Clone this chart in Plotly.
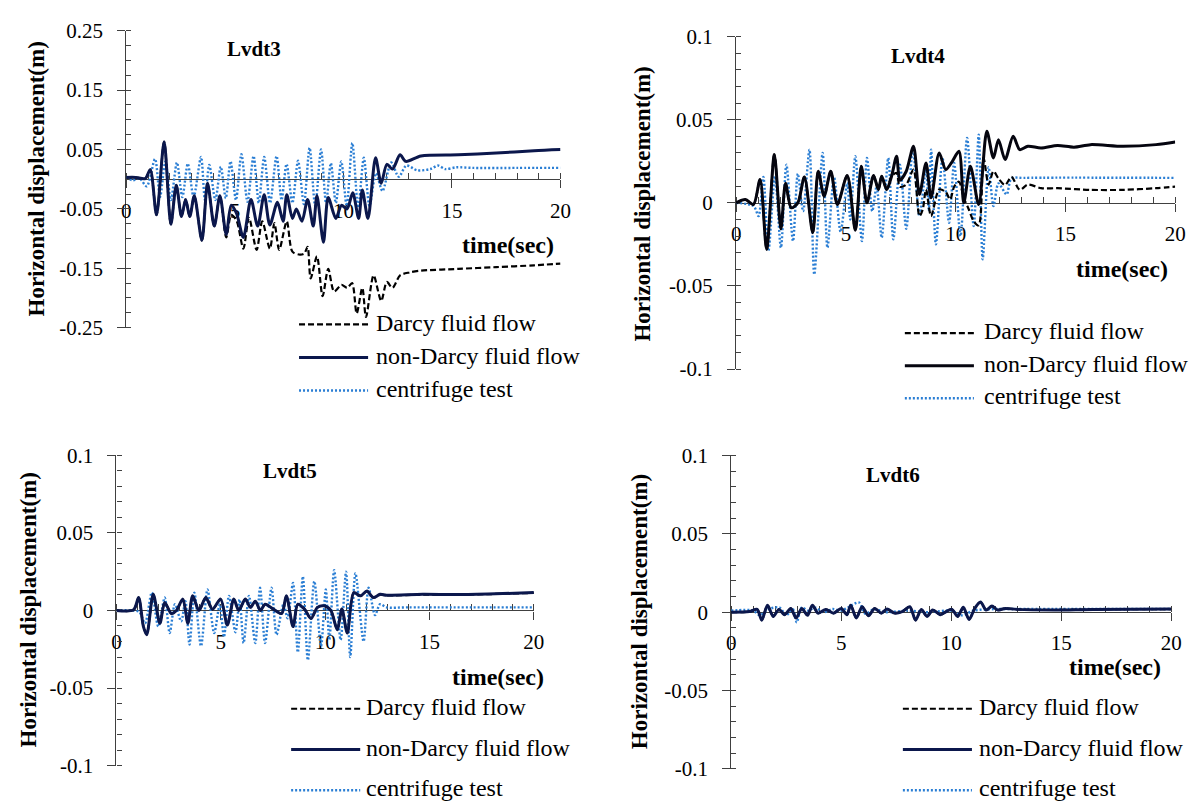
import plotly.graph_objects as go

FONT = "Liberation Serif"
W, H = 1201, 811

# ---------------- data: time (s) and horizontal displacement (m) ----------------
# Lvdt3
lvdt3_nd_t = [0, 0.43, 0.87, 1.1, 1.39, 1.74, 2.05, 2.3, 2.54, 2.73, 2.92, 3.13, 3.48, 3.74, 4.05, 4.31,
              4.6, 4.83, 5.08, 5.39, 5.74, 6.05, 6.35, 6.61, 6.96, 7.22, 7.39, 7.65, 7.83, 8.09, 8.35,
              8.61, 8.78, 9.08, 9.3, 9.65, 9.91, 10.17, 10.43, 10.7, 10.87, 11.13, 11.48, 11.74, 12.0,
              12.26, 12.61, 12.87, 13.57, 15.3, 17.04, 18.78, 20]
lvdt3_nd_v = [0.003, 0.003, 0.001, 0.016, -0.060, 0.063, -0.076, -0.010, -0.063, -0.034, -0.063, -0.028,
              -0.103, -0.007, -0.079, -0.028, -0.093, -0.044, -0.058, -0.098, -0.034, -0.079, -0.026,
              -0.077, -0.039, -0.071, -0.026, -0.066, -0.050, -0.071, -0.034, -0.079, -0.028, -0.106,
              -0.031, -0.066, -0.044, -0.050, -0.023, -0.066, -0.018, -0.066, 0.036, -0.007, 0.025,
              0.017, 0.041, 0.030, 0.039, 0.041, 0.044, 0.048, 0.050]
lvdt3_d_t = [0, 0.43, 0.87, 1.1, 1.39, 1.74, 2.05, 2.3, 2.54, 2.73, 2.92, 3.13, 3.48, 3.74, 4.05, 4.31,
             4.6, 4.83, 5.08, 5.39, 5.65, 6.0, 6.26, 6.61, 6.82, 7.04, 7.39, 7.65, 8.0, 8.2, 8.35, 8.49,
             8.78, 9.04, 9.3, 9.57, 9.91, 10.17, 10.4, 10.61, 10.87, 11.04, 11.39, 11.74, 12.0, 12.26,
             12.61, 13.04, 13.57, 15.3, 17.04, 18.78, 20]
lvdt3_d_v = [0.003, 0.003, 0.001, 0.016, -0.060, 0.063, -0.076, -0.010, -0.063, -0.034, -0.063, -0.028,
             -0.103, -0.007, -0.079, -0.028, -0.098, -0.060, -0.070, -0.117, -0.065, -0.119, -0.071,
             -0.117, -0.074, -0.119, -0.071, -0.122, -0.127, -0.125, -0.114, -0.167, -0.130, -0.197,
             -0.151, -0.189, -0.178, -0.183, -0.175, -0.226, -0.183, -0.232, -0.162, -0.205, -0.173,
             -0.183, -0.162, -0.157, -0.154, -0.151, -0.148, -0.145, -0.142]
lvdt3_c_t = [0, 0.3, 0.6, 0.94, 1.32, 1.55, 1.8, 2.05, 2.33, 2.58, 2.83, 3.1, 3.44, 3.62, 3.82, 4.1,
             4.35, 4.58, 4.8, 5.05, 5.3, 5.58, 5.86, 6.1, 6.35, 6.62, 6.92, 7.15, 7.38, 7.65, 7.91, 8.18,
             8.44, 8.7, 8.97, 9.2, 9.42, 9.65, 9.9, 10.15, 10.41, 10.68, 10.94, 11.2, 11.5, 11.8, 12.2,
             12.55, 12.9, 13.4, 14.0, 14.35, 14.7, 15.2, 16.0, 18.0, 20]
lvdt3_c_v = [0.004, -0.002, 0.002, -0.012, 0.034, -0.030, 0.030, -0.035, 0.028, -0.030, 0.026, -0.030,
             0.0375, -0.035, 0.024, -0.035, 0.021, -0.032, 0.030, -0.035, 0.042, -0.038, 0.039, -0.040,
             0.0375, -0.040, 0.039, -0.035, 0.0255, -0.040, 0.031, -0.042, 0.053, -0.045, 0.050, -0.040,
             0.027, -0.040, 0.030, -0.045, 0.061, -0.048, 0.036, -0.045, 0.010, -0.020, 0.028, 0.004,
             0.023, 0.015, 0.017, 0.023, 0.017, 0.020, 0.019, 0.019, 0.019]

# Lvdt4
lvdt4_nd_t = [0, 0.42, 0.79, 1.09, 1.39, 1.74, 2.04, 2.25, 2.51, 2.81, 3.11, 3.49, 3.74, 4.01, 4.31, 4.61,
              5.06, 5.43, 5.70, 5.96, 6.26, 6.48, 6.63, 6.86, 7.08, 7.31, 7.46, 7.75, 8.08, 8.35, 8.65,
              8.88, 9.25, 9.55, 9.85, 10.15, 10.37, 10.67, 11.05, 11.42, 11.72, 11.95, 12.25, 12.62,
              12.92, 13.29, 13.89, 14.64, 15.39, 16.14, 17.63, 19.13, 20]
lvdt4_nd_v = [0, 0.002, -0.001, 0.014, -0.028, 0.029, -0.0156, 0.0117, -0.003, 0.0, 0.0156, -0.018,
              0.019, 0.004, 0.019, -0.001, 0.0165, -0.0165, 0.022, 0.0, 0.0165, 0.008, 0.016, 0.008,
              0.016, 0.028, 0.0136, 0.019, 0.034, 0.005, 0.024, 0.003, 0.030, 0.020, 0.025, 0.031, 0.0,
              0.022, -0.001, 0.043, 0.027, 0.038, 0.026, 0.040, 0.032, 0.034, 0.033, 0.0345, 0.0335,
              0.035, 0.034, 0.035, 0.0366]
lvdt4_d_t = [0, 0.42, 0.79, 1.09, 1.39, 1.74, 2.04, 2.25, 2.51, 2.81, 3.11, 3.49, 3.74, 4.01, 4.31, 4.61,
             5.06, 5.43, 5.70, 5.96, 6.26, 6.48, 6.63, 6.86, 7.08, 7.31, 7.46, 7.75, 8.08, 8.35, 8.5,
             8.65, 8.88, 9.25, 9.55, 9.75, 9.93, 10.15, 10.37, 10.6, 10.82, 11.05, 11.27, 11.5, 11.72,
             11.95, 12.25, 12.54, 12.92, 13.29, 13.89, 14.64, 16.14, 17.63, 19.13, 20]
lvdt4_d_v = [0, 0.002, -0.001, 0.014, -0.028, 0.029, -0.0156, 0.0117, -0.003, 0.0, 0.0156, -0.018,
             0.019, 0.004, 0.019, -0.001, 0.0165, -0.0165, 0.022, 0.0, 0.0165, 0.008, 0.016, 0.008,
             0.016, 0.018, 0.0097, 0.011, 0.020, -0.008, -0.004, 0.008, -0.008, 0.008, 0.0065, 0.002,
             0.0097, 0.0127, 0.003, -0.004, -0.011, -0.0136, 0.027, 0.011, 0.019, 0.0146, 0.0107,
             0.0156, 0.0078, 0.011, 0.0088, 0.0088, 0.0078, 0.0078, 0.0088, 0.0097]
lvdt4_c_t = [0, 0.8, 1.02, 1.24, 1.47, 1.77, 2.04, 2.29, 2.59, 2.81, 3.05, 3.34, 3.56, 3.94, 4.16, 4.46,
             4.76, 5.06, 5.2, 5.43, 5.73, 5.96, 6.2, 6.4, 6.63, 6.93, 7.16, 7.46, 7.75, 8.05, 8.35, 8.65,
             8.78, 8.88, 9.10, 9.40, 9.70, 9.93, 10.22, 10.52, 10.82, 11.05, 11.23, 11.50, 11.72, 11.95,
             12.32, 12.54, 13.14, 20]
lvdt4_c_v = [0, -0.002, -0.008, 0.0156, -0.029, 0.016, -0.027, 0.023, -0.023, 0.0175, -0.005, 0.032,
             -0.043, 0.030, -0.027, 0.0156, -0.0175, 0.012, -0.010, 0.028, -0.023, 0.027, -0.005, 0.010,
             -0.021, 0.027, -0.022, 0.023, -0.0156, 0.033, -0.008, 0.020, -0.005, 0.032, -0.025, 0.027,
             -0.012, 0.024, -0.020, 0.039, -0.014, 0.041, -0.034, 0.0214, -0.002, 0.0117, 0.005, 0.0146,
             0.015, 0.015]

# Lvdt5
lvdt5_nd_t = [0, 0.82, 1.06, 1.29, 1.45, 1.76, 2.08, 2.31, 2.63, 2.87, 3.18, 3.42, 3.65, 3.95, 4.28, 4.6,
              4.99, 5.31, 5.62, 5.86, 6.17, 6.42, 6.65, 6.9, 7.12, 7.5, 7.91, 8.14, 8.46, 8.69, 9.0, 9.32,
              9.63, 9.95, 10.27, 10.58, 10.8, 11.06, 11.37, 11.69, 12.0, 12.31, 12.63, 12.94, 14.68,
              16.25, 17.8, 20]
lvdt5_nd_v = [0, 0.0004, 0.0083, -0.0104, -0.0156, 0.0104, -0.0083, 0.0052, -0.002, 0.0, 0.0073, -0.0083,
              0.0094, 0.0, 0.0083, 0.0008, 0.0073, -0.0094, 0.0073, 0.0, 0.0073, 0.002, 0.006, 0.0, 0.004,
              0.001, -0.002, 0.0094, -0.0104, 0.004, 0.001, -0.0052, 0.002, 0.003, 0.0, -0.0125, 0.001,
              -0.0146, 0.0115, 0.0094, 0.0125, 0.0083, 0.0104, 0.0098, 0.0104, 0.0102, 0.0106, 0.0115]
lvdt5_d_t = [0, 0.82, 1.06, 1.29, 1.45, 1.76, 2.08, 2.31, 2.63, 2.87, 3.18, 3.42, 3.65, 3.95, 4.28, 4.6,
             4.99, 5.31, 5.62, 5.86, 6.17, 6.42, 6.65, 6.9, 7.12, 7.5, 7.91, 8.14, 8.46, 8.69, 9.0, 9.32,
             9.63, 9.95, 10.27, 10.58, 10.8, 11.06, 11.37, 11.69, 12.0, 12.31, 12.63, 12.94, 14.68,
             16.25, 17.8, 20]
lvdt5_d_v = [0, 0.0004, 0.0082, -0.0102, -0.0154, 0.0102, -0.0082, 0.0051, -0.002, 0.0, 0.0072, -0.0082,
             0.0093, 0.0, 0.0082, 0.0008, 0.0072, -0.0093, 0.0072, 0.0, 0.0072, 0.002, 0.006, 0.0, 0.004,
             0.001, -0.002, 0.0093, -0.0102, 0.004, 0.001, -0.0051, 0.002, 0.003, 0.0, -0.0123, 0.001,
             -0.0144, 0.0113, 0.0093, 0.0123, 0.0082, 0.0102, 0.0097, 0.0102, 0.0101, 0.0105, 0.0113]
lvdt5_c_t = [0, 0.82, 1.1, 1.37, 1.69, 2.0, 2.31, 2.55, 2.8, 3.1, 3.3, 3.5, 3.73, 4.05, 4.36, 4.68, 4.95,
             5.15, 5.39, 5.7, 5.9, 6.09, 6.35, 6.65, 6.88, 7.12, 7.43, 7.67, 8.0, 8.2, 8.46, 8.69, 8.93,
             9.17, 9.48, 9.8, 10.03, 10.2, 10.43, 10.74, 11.0, 11.2, 11.45, 11.84, 12.08, 12.39, 12.63,
             12.94, 14.0, 20]
lvdt5_c_v = [0, 0.0, -0.001, -0.0083, 0.0115, -0.0104, 0.0083, -0.0146, 0.004, -0.007, 0.006, -0.022,
             0.0115, -0.023, 0.0135, -0.0146, 0.004, -0.017, 0.0094, -0.014, 0.007, -0.021, 0.0094,
             -0.021, 0.0146, -0.021, 0.0146, -0.0156, 0.004, -0.005, 0.0177, -0.027, 0.0219, -0.032,
             0.0188, -0.023, 0.0135, -0.019, 0.026, -0.019, 0.025, -0.030, 0.024, -0.020, 0.0146,
             -0.003, 0.004, 0.002, 0.002, 0.002]

# Lvdt6
lvdt6_nd_t = [0, 0.83, 1.18, 1.39, 1.65, 1.91, 2.17, 2.43, 2.71, 2.95, 3.21, 3.47, 3.69, 3.95, 4.3, 4.65,
              5.0, 5.26, 5.43, 5.69, 5.95, 6.24, 6.52, 6.82, 7.08, 7.42, 7.77, 8.12, 8.38, 8.64, 8.9,
              9.16, 9.51, 9.77, 10.03, 10.29, 10.55, 10.81, 11.07, 11.33, 11.59, 11.85, 12.11, 12.45,
              12.97, 14.71, 16.44, 20]
lvdt6_nd_v = [0, 0.0004, 0.0018, -0.0051, 0.0045, -0.0027, 0.0018, -0.0016, 0.0024, -0.0037, 0.0024,
              -0.002, 0.0045, -0.0006, 0.0018, -0.0006, 0.0024, -0.0016, 0.0045, -0.0037, 0.0035,
              -0.0022, 0.0024, -0.0006, 0.002, -0.0006, 0.0004, 0.0035, -0.0051, 0.0018, -0.0027,
              0.0014, -0.0016, 0.0004, 0.0018, -0.0027, 0.0031, -0.0047, 0.0024, 0.0065, 0.0014,
              0.0039, 0.0014, 0.0024, 0.0018, 0.0014, 0.0018, 0.002]
lvdt6_d_t = [0, 0.83, 1.18, 1.39, 1.65, 1.91, 2.17, 2.43, 2.71, 2.95, 3.21, 3.47, 3.69, 3.95, 4.3, 4.65,
             5.0, 5.26, 5.43, 5.69, 5.95, 6.24, 6.52, 6.82, 7.08, 7.42, 7.77, 8.12, 8.38, 8.64, 8.9,
             9.16, 9.51, 9.77, 10.03, 10.29, 10.55, 10.81, 11.07, 11.33, 11.59, 11.85, 12.11, 12.45,
             12.97, 14.71, 16.44, 20]
lvdt6_d_v = [0, 0.0004, 0.0018, -0.005, 0.0044, -0.0027, 0.0018, -0.0016, 0.0024, -0.0036, 0.0024,
             -0.002, 0.0044, -0.0006, 0.0018, -0.0006, 0.0024, -0.0016, 0.0044, -0.0036, 0.0034,
             -0.0022, 0.0024, -0.0006, 0.002, -0.0006, 0.0004, 0.0034, -0.005, 0.0018, -0.0027,
             0.0014, -0.0016, 0.0004, 0.0018, -0.0027, 0.003, -0.0046, 0.0024, 0.0064, 0.0014,
             0.0038, 0.0014, 0.0024, 0.0018, 0.0014, 0.0018, 0.002]
lvdt6_c_t = [0, 1.0, 1.3, 1.7, 2.2, 2.5, 2.8, 2.98, 3.2, 3.5, 3.8, 4.2, 4.6, 5.0, 5.3, 5.8, 6.1, 6.5, 7.0,
             8.0, 9.0, 10.0, 10.5, 11.0, 12.0, 13.0, 20]
lvdt6_c_v = [0.001, 0.001, -0.002, 0.002, 0.003, -0.002, 0.002, -0.0065, 0.003, 0.001, 0.003, 0.0,
             0.002, 0.001, 0.003, 0.0062, -0.001, 0.002, 0.0, 0.001, 0.0, 0.001, -0.002, 0.001, 0.002,
             0.002, 0.002]

# axis ticks
x_ticks = [0, 5, 10, 15, 20]
x_tick_text = ["0", "5", "10", "15", "20"]
y3_ticks = [0.25, 0.15, 0.05, -0.05, -0.15, -0.25]
y3_tick_text = ["0.25", "0.15", "0.05", "-0.05", "-0.15", "-0.25"]
y_ticks = [0.1, 0.05, 0, -0.05, -0.1]
y_tick_text = ["0.1", "0.05", "0", "-0.05", "-0.1"]

series_names = ["Darcy fluid flow", "non-Darcy fluid flow", "centrifuge test"]

# ---------------- layout helpers ----------------
def px_x(x):
    return x / W


def px_y(y):
    return 1 - y / H


NAVY = "#0b174c"
BLUE = "#2a7ed4"

panels = [
    dict(title="Lvdt3", box=(123, 19.3, 563, 325.3), yr=0.25, yt=y3_ticks, ytt=y3_tick_text, ymin=0.025,
         data=[(lvdt3_d_t, lvdt3_d_v), (lvdt3_nd_t, lvdt3_nd_v), (lvdt3_c_t, lvdt3_c_v)], nd_color=NAVY,
         title_xy=(252, 38), time_xy=(510, 240), ytitle_xy=(32, 172), legend_xy=(298, 374, 320, 34)),
    dict(title="Lvdt4", box=(741, 25.3, 1186, 368), yr=0.1, yt=y_ticks, ytt=y_tick_text, ymin=0.01,
         data=[(lvdt4_d_t, lvdt4_d_v), (lvdt4_nd_t, lvdt4_nd_v), (lvdt4_c_t, lvdt4_c_v)], nd_color="#05050f",
         title_xy=(925, 45), time_xy=(1132, 265), ytitle_xy=(646, 198), legend_xy=(912, 990, 329, 33.5)),
    dict(title="Lvdt5", box=(113, 456.7, 536, 776.7), yr=0.1, yt=y_ticks, ytt=y_tick_text, ymin=0.01,
         data=[(lvdt5_d_t, lvdt5_d_v), (lvdt5_nd_t, lvdt5_nd_v), (lvdt5_c_t, lvdt5_c_v)], nd_color=NAVY,
         title_xy=(289, 473), time_xy=(500, 685), ytitle_xy=(24, 616), legend_xy=(290, 364, 716, 42)),
    dict(title="Lvdt6", box=(736, 457, 1182, 780), yr=0.1, yt=y_ticks, ytt=y_tick_text, ymin=0.01,
         data=[(lvdt6_d_t, lvdt6_d_v), (lvdt6_nd_t, lvdt6_nd_v), (lvdt6_c_t, lvdt6_c_v)], nd_color=NAVY,
         title_xy=(900, 477), time_xy=(1125, 675), ytitle_xy=(643, 618), legend_xy=(910, 985, 716, 42)),
]

fig = go.Figure()
annotations = []
shapes = []
AX = "#404040"

for i, p in enumerate(panels, start=1):
    xid = "x" if i == 1 else f"x{i}"
    yid = "y" if i == 1 else f"y{i}"
    x0, y0, x1, y1 = p["box"]
    xdom = [px_x(x0), px_x(x1)]
    ydom = [px_y(y1), px_y(y0)]
    mid = (ydom[0] + ydom[1]) / 2

    line_styles = [
        dict(color="#000000", width=2.2, dash="6px,3px"),
        dict(color=p["nd_color"], width=3),
        dict(color=BLUE, width=2.4, dash="2px,2px"),
    ]
    # centrifuge drawn first, then Darcy, then non-Darcy on top
    for k in (2, 0, 1):
        t, v = p["data"][k]
        fig.add_trace(go.Scatter(x=t, y=v, mode="lines", name=series_names[k], showlegend=False,
                                 line=dict(shape="spline", smoothing=0.8, **line_styles[k]),
                                 xaxis=xid, yaxis=yid, hoverinfo="skip"))

    xa = dict(domain=xdom, range=[0, 20], anchor="free", position=mid, showline=True, linecolor=AX,
              linewidth=1.2, ticks="outside", ticklen=8, tickwidth=1.2, tickcolor=AX, tickmode="array",
              tickvals=x_ticks, ticktext=x_tick_text, showgrid=False, zeroline=False,
              minor=dict(ticks="inside", tick0=0, dtick=1, ticklen=6, tickwidth=1, tickcolor=AX),
              tickfont=dict(family=FONT, size=21, color="black"), layer="below traces",
              ticklabelstandoff=4)
    ya = dict(domain=ydom, range=[-p["yr"], p["yr"]], anchor=xid, showline=True, linecolor=AX,
              linewidth=1.2, ticks="outside", ticklen=8, tickwidth=1.2, tickcolor=AX, tickmode="array",
              tickvals=p["yt"], ticktext=p["ytt"], showgrid=False, zeroline=False,
              minor=dict(ticks="inside", tick0=0, dtick=p["ymin"], ticklen=5, tickwidth=1, tickcolor=AX),
              tickfont=dict(family=FONT, size=21, color="black"), layer="below traces",
              ticklabelstandoff=10)
    fig.layout["xaxis" if i == 1 else f"xaxis{i}"] = xa
    fig.layout["yaxis" if i == 1 else f"yaxis{i}"] = ya

    tx, ty = p["title_xy"]
    annotations.append(dict(x=px_x(tx), y=px_y(ty), xref="paper", yref="paper", text=p["title"],
                            showarrow=False, xanchor="center", yanchor="middle",
                            font=dict(family=FONT, size=21, color="black", weight="bold")))
    tx, ty = p["time_xy"]
    annotations.append(dict(x=px_x(tx), y=px_y(ty), xref="paper", yref="paper", text="time(sec)",
                            showarrow=False, xanchor="center", yanchor="middle",
                            font=dict(family=FONT, size=24, color="black", weight="bold")))
    tx, ty = p["ytitle_xy"]
    annotations.append(dict(x=px_x(tx), y=px_y(ty), xref="paper", yref="paper",
                            text="Horizontal displacement(m)", textangle=-90, showarrow=False,
                            xanchor="center", yanchor="middle",
                            font=dict(family=FONT, size=23, color="black", weight="bold")))

    # legend block
    lx0, ltx, ly, dy = p["legend_xy"]
    for r, k in enumerate((0, 1, 2)):
        yy = ly + r * dy
        st = dict(line_styles[k])
        shapes.append(dict(type="line", xref="paper", yref="paper", x0=px_x(lx0), x1=px_x(lx0 + 70),
                           y0=px_y(yy + 2), y1=px_y(yy + 2),
                           line=dict(color=st["color"], width=st["width"], dash=st.get("dash", "solid"))))
        annotations.append(dict(x=px_x(ltx), y=px_y(yy), xref="paper", yref="paper", text=series_names[k],
                                showarrow=False, xanchor="left", yanchor="middle",
                                font=dict(family=FONT, size=24, color="black")))

fig.update_layout(width=W, height=H, margin=dict(l=0, r=0, t=0, b=0), showlegend=False,
                  paper_bgcolor="white", plot_bgcolor="white", annotations=annotations, shapes=shapes,
                  font=dict(family=FONT))

fig.write_html("out.html")
